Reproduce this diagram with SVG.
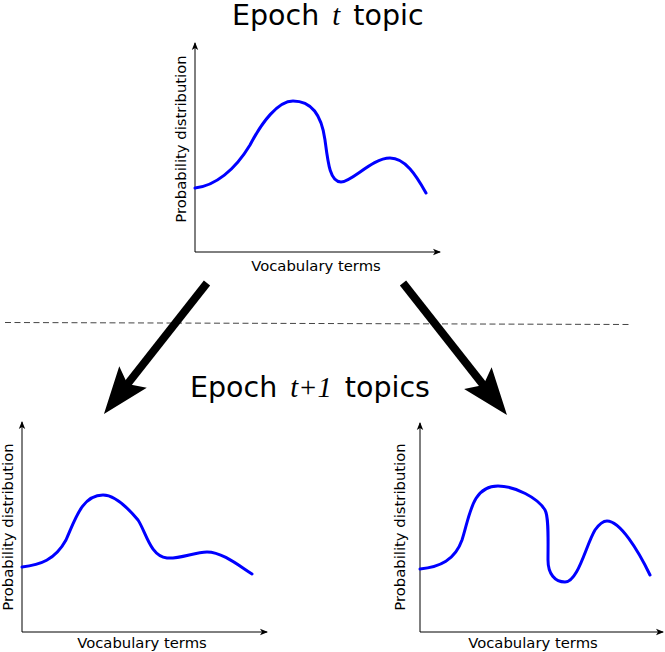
<svg xmlns="http://www.w3.org/2000/svg" width="665" height="652" viewBox="0 0 665 652">
<style>
.axis{stroke:#000;stroke-width:1;fill:none;marker-end:url(#ax)}
.curve{stroke:#0000ff;stroke-width:3;fill:none;stroke-linecap:round}
.lbl{font-family:"DejaVu Sans",sans-serif;font-size:14.8px;fill:#000;text-anchor:middle}
.title{font-family:"DejaVu Sans",sans-serif;font-size:28.5px;fill:#000;word-spacing:4px}
.m{font-family:"Liberation Serif",serif;font-style:italic}
.big{stroke:#000;stroke-width:8;fill:none;marker-end:url(#big)}
</style>
<defs>
<marker id="ax" markerUnits="userSpaceOnUse" viewBox="-9 -4 10 8" refX="-1" refY="0" markerWidth="10" markerHeight="8" orient="auto" overflow="visible">
<path d="M0,0 L-8,-3.2 L-6,0 L-8,3.2 Z" fill="#000"/>
</marker>
<marker id="big" markerUnits="userSpaceOnUse" viewBox="-48 -18 49 36" refX="-30" refY="0" markerWidth="49" markerHeight="36" orient="auto" overflow="visible">
<path d="M0,0 L-47,-17.5 L-38,0 L-47,17.5 Z" fill="#000"/>
</marker>
</defs>

<g id="title-top">
<text class="title" x="232" y="25">Epoch <tspan class="m">t</tspan> topic</text>
</g>

<g id="chart-top">
<line class="axis" x1="195" y1="252" x2="195" y2="43"/>
<line class="axis" x1="195" y1="252" x2="440" y2="252"/>
<path class="curve" d="M195,188 C215,186 235,170 250,145 C262,122 278,101 293,101 C313,101 322,118 325,140 C328,163 330,182 341,182 C352,182 372,158 390,158 C405,158 416,175 426,193"/>
<text class="lbl" x="316" y="271">Vocabulary terms</text>
<text class="lbl" transform="translate(185.5,139) rotate(-90)">Probability distribution</text>
</g>

<g id="divider">
<line x1="5" y1="322.5" x2="630" y2="324.5" stroke="#444" stroke-width="1" stroke-dasharray="6,3.5"/>
</g>

<g id="connectors">
<line class="big" x1="207" y1="283" x2="122.5" y2="390.4"/>
<line class="big" x1="403" y1="283" x2="488.4" y2="391.4"/>
</g>

<g id="title-bottom">
<text class="title" x="190" y="397">Epoch <tspan class="m">t+1</tspan> topics</text>
</g>

<g id="chart-left">
<line class="axis" x1="22" y1="632" x2="22" y2="422"/>
<line class="axis" x1="22" y1="632" x2="267" y2="632"/>
<path class="curve" d="M22,567 C40,565 55,560 66,540 C75,520 82,495 103,495 C115,495 128,508 138,520 C146,532 150,556 167,558 C180,559 195,552 207,552 C222,552 238,565 252,574"/>
<text class="lbl" x="142" y="648">Vocabulary terms</text>
<text class="lbl" transform="translate(13,527) rotate(-90)">Probability distribution</text>
</g>

<g id="chart-right">
<line class="axis" x1="420" y1="632" x2="420" y2="423"/>
<line class="axis" x1="420" y1="632" x2="663" y2="632"/>
<path class="curve" d="M420,569 C440,567 455,560 462,540 C470,515 472,486 498,486 C515,486 538,498 545,510 C549,517 548,540 548,560 C548,574 555,582 565,582 C578,582 586,545 595,530 C600,523 604,521 607,521 C620,521 638,550 650,575"/>
<text class="lbl" x="533" y="648">Vocabulary terms</text>
<text class="lbl" transform="translate(405,527) rotate(-90)">Probability distribution</text>
</g>
</svg>
